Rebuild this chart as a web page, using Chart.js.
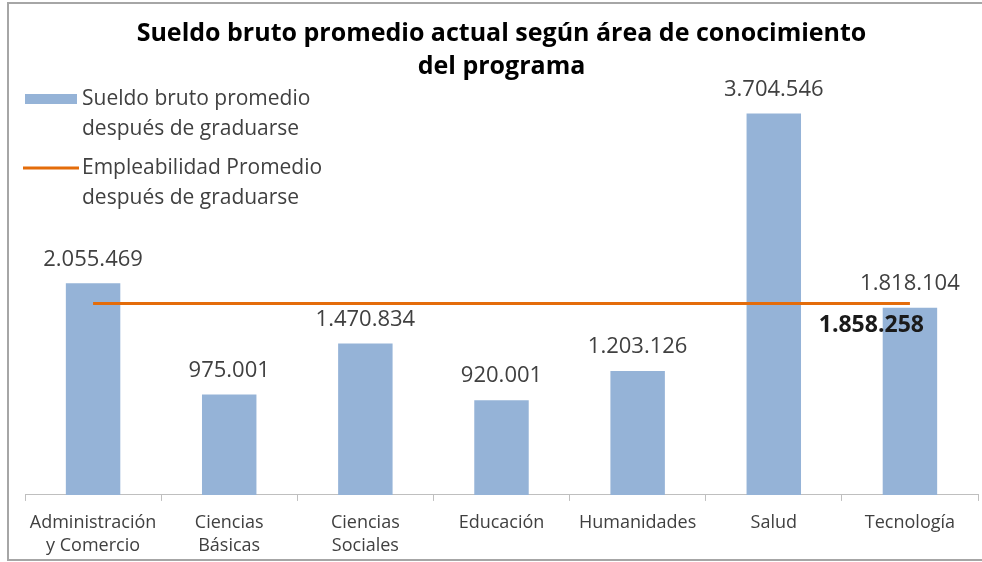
<!DOCTYPE html>
<html>
<head>
<meta charset="utf-8">
<script src="https://cdn.jsdelivr.net/npm/chart.js@4.4.1/dist/chart.umd.min.js"></script>
<style>
  html, body { margin: 0; padding: 0; background: #fff; }
  #wrap { position: relative; width: 982px; height: 562px; }
</style>
</head>
<body>
<div id="wrap"><canvas id="chart"></canvas></div>
<script>
// Chart data
const categories = [
  ['Administración', 'y Comercio'],
  ['Ciencias', 'Básicas'],
  ['Ciencias', 'Sociales'],
  'Educación',
  'Humanidades',
  'Salud',
  'Tecnología'
];
const sueldoBruto = [2055469, 975001, 1470834, 920001, 1203126, 3704546, 1818104];
const empleabilidad = [1858258, 1858258, 1858258, 1858258, 1858258, 1858258, 1858258];
const seriesNames = [
  ['Sueldo bruto promedio', 'después de graduarse'],
  ['Empleabilidad Promedio', 'después de graduarse']
];
const titleLines = ['Sueldo bruto promedio actual según área de conocimiento', 'del programa'];
const yMin = 0;
const yMax = 4000000;

const BAR_COLOR = '#95b3d7';
const LINE_COLOR = '#e46c0a';
const TEXT_COLOR = '#404040';
const FONT = "'Open Sans', 'Noto Sans', sans-serif";

// thousands separator with dots, like the original
function fmt(v) {
  return String(v).replace(/\B(?=(\d{3})+(?!\d))/g, '.');
}

// gray frame around the chart (left, top, bottom visible)
const framePlugin = {
  id: 'frame',
  beforeDraw(chart) {
    const ctx = chart.ctx;
    ctx.save();
    ctx.strokeStyle = '#a6a6a6';
    ctx.lineWidth = 2;
    ctx.strokeRect(8, 3, chart.width + 20, chart.height - 5);
    ctx.restore();
  }
};

// value labels on top of the bars + the one label of the average line
const barLabels = {
  id: 'barLabels',
  afterDatasetsDraw(chart) {
    const ctx = chart.ctx;
    const meta = chart.getDatasetMeta(0);
    ctx.save();
    ctx.font = '22px ' + FONT;
    ctx.fillStyle = TEXT_COLOR;
    ctx.textAlign = 'center';
    ctx.textBaseline = 'middle';
    meta.data.forEach((bar, i) => {
      ctx.fillText(fmt(sueldoBruto[i]), bar.x, bar.y - 24);
    });
    const lineMeta = chart.getDatasetMeta(1);
    const last = lineMeta.data[lineMeta.data.length - 1];
    ctx.font = 'bold 23px ' + FONT;
    ctx.fillStyle = '#1a1a1a';
    ctx.textAlign = 'right';
    ctx.fillText(fmt(empleabilidad[empleabilidad.length - 1]), last.x + 14, last.y + 22);
    ctx.restore();
  }
};

// legend drawn inside the plot area, upper left, with two-line labels
const insideLegend = {
  id: 'insideLegend',
  afterDraw(chart) {
    const ctx = chart.ctx;
    const area = chart.chartArea;
    const x0 = area.left;
    const lineH = 30;
    ctx.save();
    ctx.font = '21px ' + FONT;
    ctx.textBaseline = 'middle';
    ctx.textAlign = 'left';
    // bar entry
    let y = area.top + 16;
    ctx.fillStyle = BAR_COLOR;
    ctx.fillRect(x0, y - 5, 52, 10);
    ctx.fillStyle = TEXT_COLOR;
    seriesNames[0].forEach((t, k) => ctx.fillText(t, x0 + 57, y + k * lineH));
    // line entry
    y = area.top + 85;
    ctx.strokeStyle = LINE_COLOR;
    ctx.lineWidth = 3;
    ctx.beginPath();
    ctx.moveTo(x0 - 2, y);
    ctx.lineTo(x0 + 54, y);
    ctx.stroke();
    seriesNames[1].forEach((t, k) => ctx.fillText(t, x0 + 57, y + k * lineH));
    ctx.restore();
  }
};

new Chart(document.getElementById('chart'), {
  type: 'bar',
  data: {
    labels: categories,
    datasets: [
      {
        type: 'bar',
        label: seriesNames[0].join(' '),
        data: sueldoBruto,
        backgroundColor: BAR_COLOR,
        borderWidth: 0,
        barPercentage: 0.4,
        categoryPercentage: 1.0,
        order: 1
      },
      {
        type: 'line',
        label: seriesNames[1].join(' '),
        data: empleabilidad,
        borderColor: LINE_COLOR,
        borderWidth: 3,
        pointRadius: 0,
        fill: false,
        tension: 0,
        order: 0
      }
    ]
  },
  options: {
    responsive: true,
    maintainAspectRatio: false,
    animation: false,
    devicePixelRatio: 1,
    layout: { padding: { left: 25, right: 4, top: 0, bottom: -5 } },
    plugins: {
      legend: { display: false },
      tooltip: { enabled: false },
      title: {
        display: true,
        text: titleLines,
        color: '#000',
        font: { family: FONT, size: 25, weight: 'bold', lineHeight: 1.32 },
        padding: { top: 17, bottom: 0 }
      }
    },
    scales: {
      x: {
        grid: {
          display: true,
          drawOnChartArea: false,
          drawTicks: true,
          tickLength: 6,
          color: '#bfbfbf'
        },
        border: { color: '#bfbfbf', width: 1 },
        ticks: {
          color: TEXT_COLOR,
          font: { family: FONT, size: 18, lineHeight: 1.28 },
          padding: 10,
          maxRotation: 0,
          autoSkip: false
        }
      },
      y: {
        display: false,
        min: yMin,
        max: yMax
      }
    }
  },
  plugins: [framePlugin, barLabels, insideLegend]
});
</script>
</body>
</html>
